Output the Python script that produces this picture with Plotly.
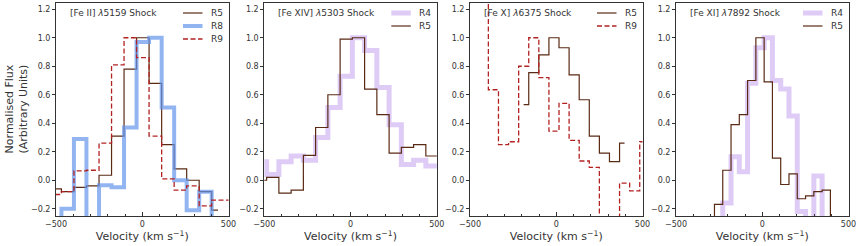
import plotly.graph_objects as go

# ---------------- data ----------------
# Panel 1: [Fe II] 5159 Shock
p1_vel = [-505, -432, -360, -287, -214, -142, -69, 3, 76, 149, 221, 294, 366, 439, 512]
p1_r5 = [-0.06, -0.08, -0.05, -0.04, 0.035, 0.31, 0.78, 1.0, 0.68, 0.25, 0.08, 0.0, -0.08, -0.21]
p1_r8 = [-0.35, -0.2, 0.29, -0.35, -0.035, -0.05, 0.37, 0.97, 1.0, 0.51, 0.0, -0.21, -0.08, -0.35, -0.35]
p1_r9 = [-0.10, -0.08, 0.065, 0.07, 0.26, 0.81, 1.0, 0.86, 0.31, 0.01, -0.07, -0.04, -0.18, -0.14, -0.14]

# Panel 2: [Fe XIV] 5303 Shock
p2_vel = [-522, -451, -380, -309, -238, -167, -96, -25, 46, 117, 188, 259, 330, 401, 472, 543]
p2_r4 = [0.13, 0.04, 0.13, 0.17, 0.14, 0.30, 0.51, 0.73, 1.0, 0.91, 0.65, 0.39, 0.11, 0.14, 0.10, 0.10]
p2_r5 = [0.0, 0.02, -0.09, -0.07, 0.175, 0.37, 0.60, 0.99, 1.0, 0.64, 0.46, 0.19, 0.23, 0.25, 0.17, 0.17]

# Panel 3: [Fe X] 6375 Shock
p3_vel_r5 = [-189, -130, -72, -13, 45, 104, 162, 221, 279, 338, 396]
p3_r5 = [0.53, 0.755, 0.88, 1.0, 0.93, 0.74, 0.565, 0.31, 0.19, 0.13, 0.26]
p3_vel_r9 = [-481, -423, -364, -306, -247, -189, -130, -72, -13, 45, 104, 162, 221, 279, 338, 396, 455, 513]
p3_r9 = [1.5, 1.5, 0.635, 0.25, 0.27, 0.80, 1.0, 0.72, 0.345, 0.54, 0.28, 0.135, 0.09, -0.4, -0.4, -0.02, -0.075, 0.27]

# Panel 4: [Fe XI] 7892 Shock
p4_vel = [-301, -253, -205, -157, -109, -61, -13, 35, 83, 131, 179, 227, 275, 323, 371, 419]
p4_r4 = [-0.4, -0.4, -0.16, 0.165, 0.06, 0.68, 0.93, 1.0, 0.70, 0.64, 0.45, -0.22, -0.4, 0.03, -0.4, -0.4]
p4_r5 = [-0.35, -0.17, 0.07, 0.39, 0.46, 0.70, 1.0, 0.69, 0.155, -0.03, 0.045, -0.13, -0.11, -0.08, -0.07, -0.35]

panel_titles = ["[Fe II] <i>λ</i>5159 Shock", "[Fe XIV] <i>λ</i>5303 Shock",
                "[Fe X] <i>λ</i>6375 Shock", "[Fe XI] <i>λ</i>7892 Shock"]

x_ticks = [-500, 0, 500]
y_ticks = [-0.2, 0.0, 0.2, 0.4, 0.6, 0.8, 1.0, 1.2]

# ---------------- styles ----------------
styles = {
    "R5": dict(color="#5a2a14", width=1.2, dash="solid"),
    "R8": dict(color="rgba(100,149,237,0.7)", width=4, dash="solid"),
    "R9": dict(color="#b22222", width=1.3, dash="5px,2.5px"),
    "R4": dict(color="rgba(160,110,230,0.35)", width=5, dash="solid"),
}

panels = [
    [("R5", p1_vel[:len(p1_r5)], p1_r5), ("R8", p1_vel, p1_r8), ("R9", p1_vel, p1_r9)],
    [("R4", p2_vel, p2_r4), ("R5", p2_vel, p2_r5)],
    [("R5", p3_vel_r5, p3_r5), ("R9", p3_vel_r9, p3_r9)],
    [("R4", p4_vel, p4_r4), ("R5", p4_vel, p4_r5)],
]

W, H = 859, 246
left_px = [56, 264.3, 470, 676]
panel_w = 172.5
top_px, bot_px = 2.7, 216
ink = "#333333"
FONT = "DejaVu Sans"

fig = go.Figure()
shapes = []
annotations = []

for i, series in enumerate(panels):
    n = "" if i == 0 else str(i + 1)
    xa, ya = "x" + n, "y" + n
    for name, xs, ys in series:
        st = styles[name]
        fig.add_trace(go.Scatter(
            x=xs, y=ys, mode="lines", name=name, showlegend=False,
            line=dict(color=st["color"], width=st["width"], dash=st["dash"], shape="hvh"),
            xaxis=xa, yaxis=ya, hoverinfo="x+y+name"))

    dom = [left_px[i] / W, (left_px[i] + panel_w) / W]
    fig.layout["xaxis" + n] = dict(
        domain=dom, range=[-500, 500], tickvals=x_ticks, ticks="inside", ticklen=4,
        tickcolor=ink, tickwidth=1, tickfont=dict(size=8, color=ink),
        minor=dict(dtick=100, tick0=0, ticks="inside", ticklen=2, tickcolor=ink),
        showline=True, mirror=True, linecolor=ink, linewidth=1,
        showgrid=False, zeroline=False, anchor=ya, automargin=False,
        title=dict(text="Velocity (km s<sup>−1</sup>)", font=dict(size=11, color=ink), standoff=3))
    fig.layout["yaxis" + n] = dict(
        domain=[1 - bot_px / H, 1 - top_px / H], range=[-0.251, 1.246],
        tickvals=y_ticks, tickformat=".1f", ticks="outside", ticklen=3,
        tickcolor=ink, tickfont=dict(size=8, color=ink),
        showline=True, mirror=True, linecolor=ink, linewidth=1,
        showgrid=False, zeroline=False, anchor=xa, automargin=False)

    ph = bot_px - top_px
    # panel label
    annotations.append(dict(
        text=panel_titles[i], xref=xa + " domain", yref=ya + " domain",
        x=12 / panel_w, y=1 - 10.6 / ph, xanchor="left", yanchor="middle",
        showarrow=False, font=dict(size=9, color=ink)))
    # legend (drawn per panel, top right)
    for k, (name, _, _) in enumerate(series):
        st = styles[name]
        yrow = 1 - (10.3 + 13 * k) / ph
        shapes.append(dict(
            type="line", xref=xa + " domain", yref=ya + " domain",
            x0=127 / panel_w, x1=146.5 / panel_w, y0=yrow, y1=yrow,
            line=dict(color=st["color"], width=st["width"], dash=st["dash"])))
        annotations.append(dict(
            text=name, xref=xa + " domain", yref=ya + " domain",
            x=153 / panel_w, y=yrow, xanchor="left", yanchor="middle",
            showarrow=False, font=dict(size=9, color=ink)))

annotations.append(dict(
    text="Normalised Flux<br>(Arbitrary Units)", xref="paper", yref="paper",
    x=16 / W, y=1 - 109.5 / H, xanchor="center", yanchor="middle", textangle=-90,
    showarrow=False, font=dict(size=11, color=ink)))

fig.update_layout(
    template="none",
    width=W, height=H, margin=dict(l=0, r=0, t=0, b=0, autoexpand=False),
    paper_bgcolor="white", plot_bgcolor="white",
    font=dict(family=FONT, size=9, color=ink),
    shapes=shapes, annotations=annotations, showlegend=False)

fig.write_html("out.html", config={"displayModeBar": False},
               post_script="document.body.style.margin='0';")
